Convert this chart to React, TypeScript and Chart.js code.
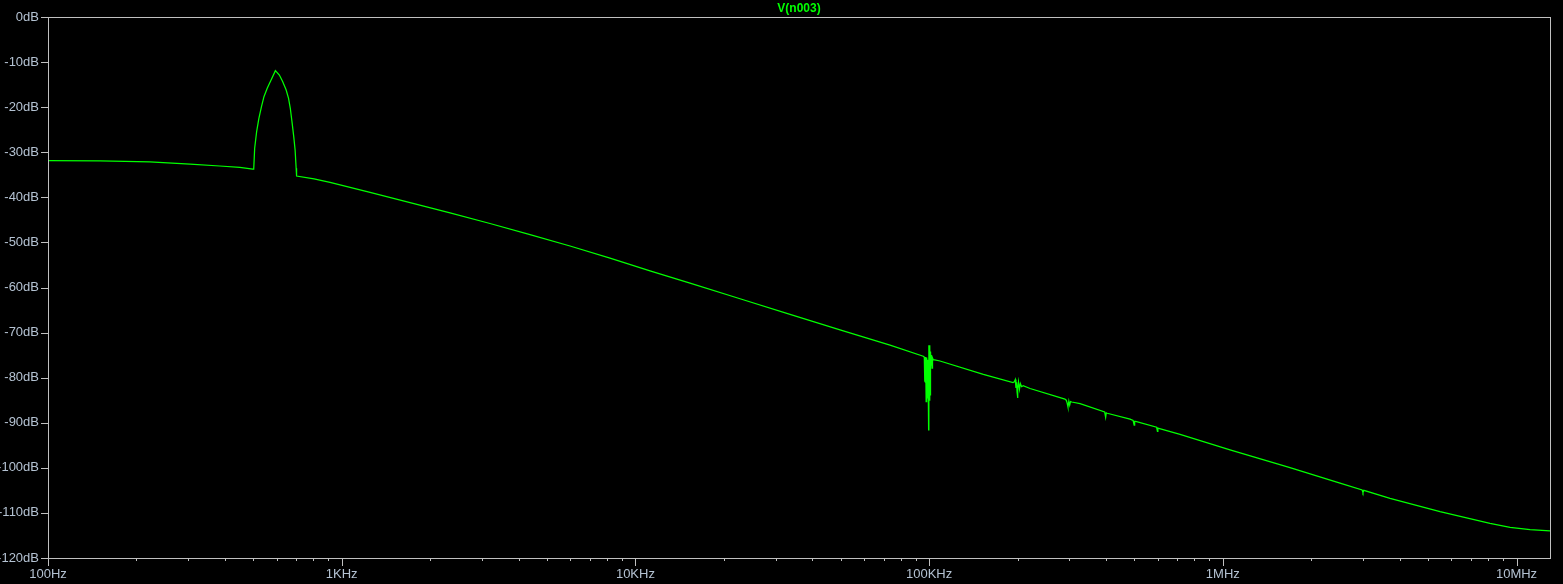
import React, { useEffect, useRef } from "react";
import { Chart, registerables } from "chart.js";

Chart.register(...registerables);

const TITLE = "V(n003)";
const X_MIN = 100;
const X_MAX = 13e6;
const Y_MIN = -120;
const Y_MAX = 0;
const Y_STEP = 10;

const decadeValues = [100, 1e3, 1e4, 1e5, 1e6, 1e7];
const decadeLabels = ["100Hz", "1KHz", "10KHz", "100KHz", "1MHz", "10MHz"];

// flat low-frequency part
const lowFreq = [100, 150.5, 222.2, 304.5, 384.4, 450, 498];
const lowDb = [-31.83, -31.94, -32.16, -32.61, -33.05, -33.38, -33.72];

// resonance bump 500Hz..700Hz
const bumpFreq = [501.7, 505.4, 513.3, 522.4, 533.1, 543.6, 557.7, 574.9, 594.5, 613.5, 629.8, 647.0, 659.2, 668.3, 677.1, 686.6, 694.0, 699.7, 702.0];
const bumpDb = [-33.72, -29.12, -25.44, -22.47, -19.9, -17.68, -15.82, -13.98, -11.91, -12.87, -14.35, -16.19, -18.03, -20.25, -23.22, -26.55, -29.5, -33.56, -35.27];

// main roll-off
const mainFreq = [805, 912.6, 1249, 1709, 2338, 3198, 4377, 5989, 8195, 11213, 15344, 22709, 33610, 49730, 73600, 108900, 152950, 220600, 326500, 483100, 715100, 1.058e6, 1.693e6, 2.506e6, 3.709e6, 5.49e6, 8.122e6, 9.507e6, 1.112e7, 1.3e7];
const mainDb = [-35.9, -36.67, -38.92, -41.17, -43.45, -45.8, -48.25, -50.8, -53.5, -56.3, -59.05, -62.5, -65.95, -69.4, -72.8, -76.3, -79.28, -82.4, -85.75, -89.2, -92.6, -96.0, -99.95, -103.4, -106.76, -109.73, -112.3, -113.2, -113.7, -114.0];

// glitch around 100KHz
const glitch100kFreq = [95500, 96300, 96500, 96800, 97100, 97300, 97700, 97900, 98100, 98300, 98600, 99100, 99600, 99800, 100200, 100500, 100800, 101100, 101500, 101900, 102300, 102700, 103300, 104500];
const glitch100kDb = [-75.25, -75.45, -80.9, -76.0, -81.0, -75.4, -85.3, -75.5, -85.0, -75.6, -84.5, -76.0, -91.6, -72.8, -85.0, -72.8, -83.8, -74.2, -77.2, -75.0, -77.9, -75.6, -76.0, -76.05];

// glitch around 200KHz
const glitch200kFreq = [193000, 195000, 196500, 197500, 198500, 199300, 200000, 200600, 201500, 203000, 204500, 206500, 209000];
const glitch200kDb = [-81.1, -80.9, -80.4, -82.3, -81.0, -83.2, -84.5, -82.4, -80.9, -82.6, -81.3, -82.0, -81.8];

// small glitches at 300K, 400K, 500K, 600K, 3MHz
const glitchSmallFreq = [290000, 293000, 295000, 297000, 299000, 301000, 303000, 306000, 396000, 399000, 401000, 404000, 495000, 499000, 501000, 505000, 595000, 599000, 601000, 605000, 2.98e6, 3.0e6, 3.02e6];
const glitchSmallDb = [-84.75, -85.0, -85.6, -86.5, -85.2, -86.1, -85.3, -85.4, -87.6, -88.8, -87.8, -87.9, -89.5, -90.5, -89.7, -89.7, -91.0, -91.9, -91.2, -91.25, -104.9, -105.5, -105.0];

const LINE_COLOR = "#00ff00";
const AXIS_COLOR = "#c0c0c0";
const LABEL_COLOR = "#b4c2d2";
const FONT_FAMILY = '"Liberation Sans", Arial, sans-serif';

function zip(f: number[], d: number[]) {
  return f.map((v, i) => ({ x: v, y: d[i] }));
}

const points = [
  ...zip(lowFreq, lowDb),
  ...zip(bumpFreq, bumpDb),
  ...zip(mainFreq, mainDb),
  ...zip(glitch100kFreq, glitch100kDb),
  ...zip(glitch200kFreq, glitch200kDb),
  ...zip(glitchSmallFreq, glitchSmallDb),
].sort((a, b) => a.x - b.x);

function buildXTicks() {
  const t: number[] = [];
  for (let d = 100; d <= 1e7; d *= 10) {
    for (let m = 1; m <= 9; m++) {
      const v = d * m;
      if (v >= X_MIN && v <= X_MAX) t.push(v);
    }
  }
  return t;
}

const framePlugin = {
  id: "ltFrame",
  beforeDraw(chart: any) {
    const { ctx, width, height } = chart;
    ctx.save();
    ctx.fillStyle = "#000";
    ctx.fillRect(0, 0, width, height);
    ctx.restore();
  },
  afterDraw(chart: any) {
    const { ctx, chartArea, scales } = chart;
    const { left, right, top, bottom } = chartArea;
    const xs = scales.x;
    const ys = scales.y;
    ctx.save();
    ctx.strokeStyle = AXIS_COLOR;
    ctx.lineWidth = 1;
    ctx.strokeRect(left + 0.5, top + 0.5, right - left, bottom - top);
    ctx.beginPath();
    for (let v = Y_MIN; v <= Y_MAX; v += Y_STEP) {
      const py = Math.round(ys.getPixelForValue(v)) + 0.5;
      ctx.moveTo(left - 7, py);
      ctx.lineTo(left, py);
    }
    for (const t of xs.ticks) {
      const px = Math.round(xs.getPixelForValue(t.value)) + 0.5;
      const major = decadeValues.includes(t.value);
      ctx.moveTo(px, bottom);
      ctx.lineTo(px, bottom + (major ? 8 : 3));
    }
    ctx.stroke();
    ctx.fillStyle = LINE_COLOR;
    ctx.font = `bold 12px ${FONT_FAMILY}`;
    ctx.textAlign = "center";
    ctx.textBaseline = "alphabetic";
    ctx.fillText(TITLE, (left + right) / 2, 12);
    ctx.restore();
  },
};

export default function App() {
  const ref = useRef<HTMLCanvasElement>(null);
  useEffect(() => {
    document.body.style.margin = "0";
    document.body.style.background = "#000";
    const canvas = ref.current!;
    const chart = new Chart(canvas, {
      type: "line",
      data: {
        datasets: [
          {
            data: points,
            borderColor: LINE_COLOR,
            borderWidth: 1.25,
            pointRadius: 0,
            fill: false,
            tension: 0,
          },
        ],
      },
      options: {
        animation: false,
        responsive: false,
        layout: { padding: { top: 17, right: 13, left: 0, bottom: 0 } },
        plugins: {
          legend: { display: false },
          tooltip: { enabled: false },
          title: { display: false },
        },
        scales: {
          x: {
            type: "logarithmic",
            min: X_MIN,
            max: X_MAX,
            grid: { display: false, drawTicks: false },
            border: { display: false },
            afterBuildTicks: (scale: any) => {
              scale.ticks = buildXTicks().map((v) => ({ value: v }));
            },
            afterFit: (scale: any) => {
              scale.height = 26;
            },
            ticks: {
              autoSkip: false,
              maxRotation: 0,
              minRotation: 0,
              padding: 9,
              color: LABEL_COLOR,
              font: { family: FONT_FAMILY, size: 13 },
              callback: (value: any) => {
                const i = decadeValues.indexOf(Number(value));
                return i >= 0 ? decadeLabels[i] : "";
              },
            },
          },
          y: {
            type: "linear",
            min: Y_MIN,
            max: Y_MAX,
            grid: { display: false, drawTicks: false },
            border: { display: false },
            afterFit: (scale: any) => {
              scale.width = 48;
            },
            ticks: {
              stepSize: Y_STEP,
              padding: 9,
              color: LABEL_COLOR,
              font: { family: FONT_FAMILY, size: 13 },
              callback: (value: any) => `${value}dB`,
            },
          },
        },
      },
      plugins: [framePlugin],
    } as any);
    return () => chart.destroy();
  }, []);
  return (
    <div style={{ width: 1563, height: 584, background: "#000" }}>
      <canvas ref={ref} width={1563} height={584} style={{ display: "block" }} />
    </div>
  );
}
